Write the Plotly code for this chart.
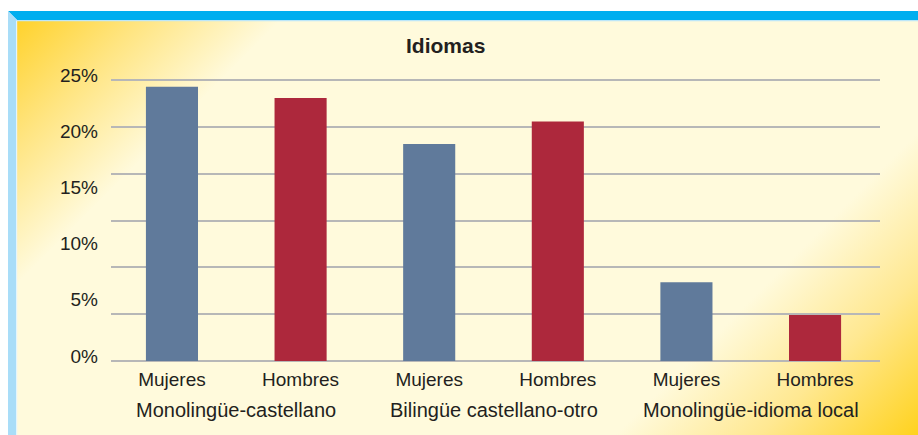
import base64
import plotly.graph_objects as go

# ---- data ----
groups = ["Monolingüe-castellano", "Bilingüe castellano-otro", "Monolingüe-idioma local"]
sexes = ["Mujeres", "Hombres", "Mujeres", "Hombres", "Mujeres", "Hombres"]
values = [24.4, 23.4, 19.3, 21.3, 7.0, 4.1]
ytick_vals = [0, 5, 10, 15, 20, 25]
ytick_text = ["0%", "5%", "10%", "15%", "20%", "25%"]
title_text = "Idiomas"

BLUE = "#607A9B"
RED = "#AD283C"
bar_colors = [BLUE if s == "Mujeres" else RED for s in sexes]
xpos = list(range(len(sexes)))

W, H = 918, 435
L, R, T, B = 111, 38, 79, 73
PW, PH = W - L - R, H - T - B
YPAD = 0.09


def px(x):
    return (x - L) / PW


def py(y):
    return (H - B - y) / PH


# background gradient (SVG)
gw, gh = 901, 414
svg = f'''<svg xmlns="http://www.w3.org/2000/svg" width="{gw}" height="{gh}" viewBox="0 0 {gw} {gh}" preserveAspectRatio="none">
<defs><linearGradient id="g" gradientUnits="userSpaceOnUse" x1="0" y1="0" x2="{(gw+gh)/2}" y2="{(gw+gh)/2}">
<stop offset="0" stop-color="#FFD22C"/>
<stop offset="0.09" stop-color="#FFE47E"/>
<stop offset="0.2" stop-color="#FFFADC"/>
<stop offset="0.77" stop-color="#FFFADC"/>
<stop offset="0.88" stop-color="#FFE891"/>
<stop offset="1" stop-color="#FFD21E"/>
</linearGradient></defs>
<rect x="0" y="0" width="{gw}" height="{gh}" fill="url(#g)"/>
</svg>'''
svg_uri = "data:image/svg+xml;base64," + base64.b64encode(svg.encode()).decode()

FONT = "Liberation Sans, Arial, sans-serif"
TXT = "#231F20"

fig = go.Figure()
fig.add_trace(go.Bar(
    x=xpos, y=values,
    marker=dict(color=bar_colors, line=dict(width=0)),
    width=0.405, yaxis="y", showlegend=False, hoverinfo="y",
))

annotations = [dict(text=f"<b>{title_text}</b>", xref="paper", yref="paper",
                    x=px(445), y=py(45), xanchor="center", yanchor="middle",
                    showarrow=False,
                    font=dict(family=FONT, size=21, color=TXT))]
for k, g in enumerate(groups):
    annotations.append(dict(text=g, xref="x", yref="paper",
                            x=(2 * k + 2 * k + 1) / 2, y=py(410),
                            xanchor="center", yanchor="middle", showarrow=False,
                            font=dict(family=FONT, size=20, color=TXT)))

fig.update_layout(
    width=W, height=H,
    margin=dict(l=L, r=R, t=T, b=B, autoexpand=False),
    paper_bgcolor="white",
    plot_bgcolor="rgba(0,0,0,0)",
    font=dict(family=FONT, size=19, color=TXT),
    xaxis=dict(showgrid=False, zeroline=False, showline=False, ticks="",
               automargin=False, range=[-0.474, 5.505],
               tickmode="array", tickvals=xpos, ticktext=sexes,
               ticklabelstandoff=4,
               tickfont=dict(family=FONT, size=19, color=TXT)),
    yaxis=dict(range=[-YPAD, 25 + YPAD], tickmode="array",
               tickvals=[k * 25 / 6 for k in range(7)], automargin=False,
               showticklabels=False, showgrid=True, gridcolor="#B7B7B7",
               gridwidth=2, zeroline=False, showline=False, ticks=""),
    yaxis2=dict(range=[-YPAD, 25 + YPAD], overlaying="y", side="left",
                tickmode="array", tickvals=ytick_vals, ticktext=ytick_text,
                showgrid=False, zeroline=False, showline=False, ticks="",
                automargin=False,
                ticklabelstandoff=12, ticklabelshift=-5,
                tickfont=dict(family=FONT, size=19, color=TXT)),
    images=[dict(source=svg_uri, xref="paper", yref="paper",
                 x=px(17), y=py(21), sizex=(W - 17) / PW, sizey=(H - 21) / PH,
                 sizing="stretch", layer="below", xanchor="left", yanchor="top")],
    shapes=[
        # dark blue top band with bevel
        dict(type="path", xref="paper", yref="paper", layer="above",
             path=f"M {px(8)} {py(11)} L {px(W)} {py(11)} L {px(W)} {py(20)} L {px(17)} {py(20)} Z",
             fillcolor="#00AEEF", line=dict(width=0)),
        # light blue left band
        dict(type="path", xref="paper", yref="paper", layer="above",
             path=f"M {px(8)} {py(11)} L {px(17)} {py(20)} L {px(17)} {py(H)} L {px(8)} {py(H)} Z",
             fillcolor="#A9DDF8", line=dict(width=0)),
        # thin light edge lines
        dict(type="line", xref="paper", yref="paper", layer="above",
             x0=px(17), x1=px(W), y0=py(20.6), y1=py(20.6),
             line=dict(color="#BDE6F8", width=1.2)),
        dict(type="line", xref="paper", yref="paper", layer="above",
             x0=px(16.6), x1=px(16.6), y0=py(20.6), y1=py(H),
             line=dict(color="#E4F5FC", width=1.2)),
    ],
    annotations=annotations,
    bargap=0.6,
)

# dummy trace so yaxis2 is shown
fig.add_trace(go.Scatter(x=[0], y=[None], yaxis="y2",
                         showlegend=False, hoverinfo="skip", mode="markers"))

fig.write_html("out.html", config={"displayModeBar": False},
               post_script="document.body.style.margin='0';document.body.style.overflow='hidden';")
